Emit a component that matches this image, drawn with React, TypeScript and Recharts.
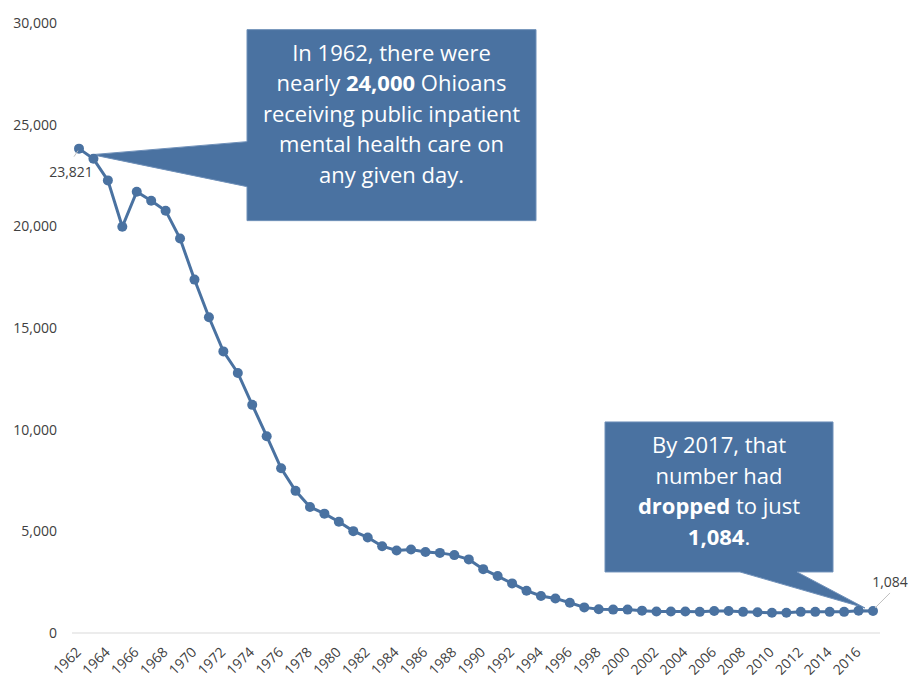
import React from "react";
import {
  LineChart,
  Line,
  XAxis,
  YAxis,
  ReferenceDot,
  LabelList,
} from "recharts";

const years = [
  1962, 1963, 1964, 1965, 1966, 1967, 1968, 1969, 1970, 1971, 1972, 1973, 1974, 1975,
  1976, 1977, 1978, 1979, 1980, 1981, 1982, 1983, 1984, 1985, 1986, 1987, 1988, 1989,
  1990, 1991, 1992, 1993, 1994, 1995, 1996, 1997, 1998, 1999, 2000, 2001, 2002, 2003,
  2004, 2005, 2006, 2007, 2008, 2009, 2010, 2011, 2012, 2013, 2014, 2015, 2016, 2017,
];

const patients = [
  23821, 23320, 22260, 19980, 21700, 21260, 20770, 19400, 17380, 15530, 13850, 12790, 11220, 9680,
  8100, 6990, 6200, 5870, 5470, 5010, 4700, 4270, 4060, 4110, 3980, 3940, 3830, 3620,
  3140, 2800, 2440, 2080, 1820, 1700, 1490, 1260, 1170, 1150, 1150, 1100, 1060, 1060,
  1060, 1040, 1080, 1080, 1040, 1020, 1000, 1000, 1040, 1040, 1040, 1040, 1100, 1084,
];

const yTicks = [0, 5000, 10000, 15000, 20000, 25000, 30000];

const calloutTop = [
  [{ t: "In 1962, there were" }],
  [{ t: "nearly " }, { t: "24,000", b: true }, { t: " Ohioans" }],
  [{ t: "receiving public inpatient" }],
  [{ t: "mental health care on" }],
  [{ t: "any given day." }],
];

const calloutBottom = [
  [{ t: "By 2017, that" }],
  [{ t: "number had" }],
  [{ t: "dropped", b: true }, { t: " to just" }],
  [{ t: "1,084", b: true }, { t: "." }],
];

const data = years.map((year, i) => ({ year, patients: patients[i] }));

const BLUE = "#4A72A1";
const FONT = "'Open Sans', Lato, sans-serif";
const fmt = (v: number) => v.toLocaleString("en-US");

function XTick({ x, y, payload }: any) {
  return (
    <g transform={`translate(${x + 3},${y + 12})`}>
      <text
        x={0}
        y={0}
        textAnchor="end"
        transform="rotate(-45)"
        fill="#404040"
        fontSize={14}
        fontFamily={FONT}
      >
        {payload.value}
      </text>
    </g>
  );
}

function Lines({ lines, cx, y0 }: { lines: any[]; cx: number; y0: number }) {
  return (
    <>
      {lines.map((parts: any[], i: number) => (
        <text
          key={i}
          x={cx}
          y={y0 + i * 30.6}
          textAnchor="middle"
          fill="#fff"
          fontSize={22}
          fontFamily={FONT}
        >
          {parts.map((p, j) => (
            <tspan key={j} fontWeight={p.b ? 700 : 400}>
              {p.t}
            </tspan>
          ))}
        </text>
      ))}
    </>
  );
}

// callout pointing at the first point, box to the right
function TopCallout({ cx, cy }: any) {
  if (cx == null || cy == null) return null;
  const l = cx + 168, r = cx + 457, t = cy - 119, b = cy + 72;
  const d = `M${l},${t} L${r},${t} L${r},${b} L${l},${b} L${l},${cy + 38} L${cx + 13},${cy + 6} L${l},${cy - 7} Z`;
  return (
    <g>
      <path d={d} fill={BLUE} stroke="#6F90B9" strokeWidth={1} />
      <Lines lines={calloutTop} cx={(l + r) / 2} y0={cy - 88} />
    </g>
  );
}

// callout pointing at the last point, box above-left
function BottomCallout({ cx, cy }: any) {
  if (cx == null || cy == null) return null;
  const l = cx - 268, r = cx - 40, t = cy - 189, b = cy - 39;
  const d = `M${l},${t} L${r},${t} L${r},${b} L${cx - 76},${b} L${cx - 8},${cy - 3} L${cx - 133},${b} L${l},${b} Z`;
  return (
    <g>
      <path d={d} fill={BLUE} stroke="#6F90B9" strokeWidth={1} />
      <Lines lines={calloutBottom} cx={(l + r) / 2} y0={cy - 158} />
    </g>
  );
}

function EndLabel({ x, y, value, index }: any) {
  const style = { fill: "#404040", fontSize: 14, fontFamily: FONT };
  if (index === 0) {
    return (
      <g>
        <line x1={x - 1} y1={y + 2} x2={x - 5} y2={y + 8} stroke="#BFBFBF" />
        <text x={x - 8} y={y + 28} textAnchor="middle" {...style}>
          {fmt(value)}
        </text>
      </g>
    );
  }
  if (index === patients.length - 1) {
    return (
      <g>
        <line x1={x + 2} y1={y - 3} x2={x + 17} y2={y - 18} stroke="#BFBFBF" />
        <text x={x + 17} y={y - 24} textAnchor="middle" {...style}>
          {fmt(value)}
        </text>
      </g>
    );
  }
  return null;
}

export default function App() {
  return (
    <div style={{ position: "absolute", left: 0, top: 0, background: "#fff" }}>
      <LineChart
        width={910}
        height={681}
        data={data}
        margin={{ top: 23, right: 30, left: 0, bottom: 0 }}
      >
        <XAxis
          dataKey="year"
          interval={1}
          height={48}
          padding={{ left: 7, right: 7 }}
          axisLine={{ stroke: "#D9D9D9" }}
          tickLine={false}
          tick={<XTick />}
        />
        <YAxis
          width={72}
          domain={[0, 30000]}
          ticks={yTicks}
          tickFormatter={fmt}
          axisLine={false}
          tickLine={false}
          tickMargin={9}
          tick={{ fill: "#404040", fontSize: 14, fontFamily: FONT }}
        />
        <ReferenceDot
          x={years[0]}
          y={patients[0]}
          r={0}
          shape={<TopCallout />}
          ifOverflow="visible"
        />
        <ReferenceDot
          x={years[years.length - 1]}
          y={patients[patients.length - 1]}
          r={0}
          shape={<BottomCallout />}
          ifOverflow="visible"
        />
        <Line
          type="linear"
          dataKey="patients"
          stroke={BLUE}
          strokeWidth={3}
          dot={{ r: 5, fill: BLUE, stroke: BLUE, strokeWidth: 0 }}
          activeDot={false}
          isAnimationActive={false}
        >
          <LabelList dataKey="patients" content={<EndLabel />} />
        </Line>
      </LineChart>
    </div>
  );
}
